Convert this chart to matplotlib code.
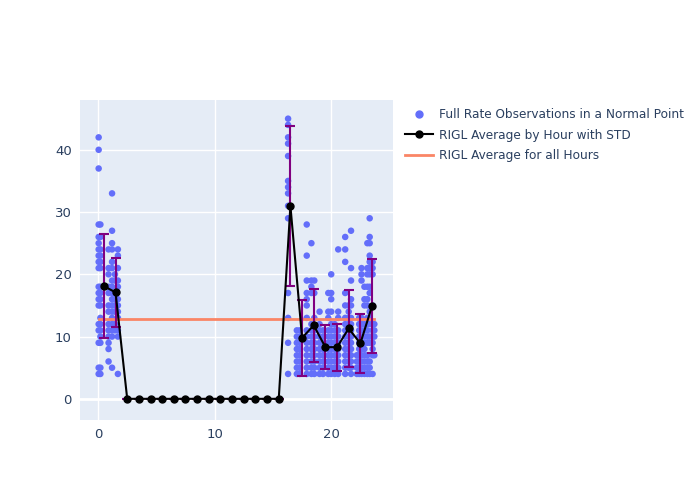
import numpy as np
import matplotlib
matplotlib.use("Agg")
import matplotlib.pyplot as plt
from matplotlib.lines import Line2D

# --- Observation columns (hour of day, list of integer values) ---
col_x = [0.05, 0.2, 0.9, 1.2, 1.45, 1.7,
         16.3,
         17.05, 17.3, 17.9, 18.3, 18.55,
         19.0, 19.3, 19.75, 20.0, 20.3, 20.6,
         21.2, 21.5, 21.7,
         22.2, 22.4, 22.6, 22.85,
         23.1, 23.3, 23.55, 23.7]
col_vals = [
    [42, 40, 37, 28, 26, 25, 24, 23, 22, 21, 18, 17, 16, 15, 12, 11, 9, 5, 4],
    [28, 26, 24, 23, 22, 21, 18, 17, 16, 15, 13, 12, 11, 10, 9, 5, 4],
    [24, 21, 20, 18, 17, 15, 14, 12, 11, 10, 9, 8, 6],
    [33, 27, 25, 24, 22, 21, 19, 18, 17, 16, 15, 14, 13, 12, 11, 10, 5],
    [20, 19, 17, 16, 15, 14, 12, 11],
    [24, 23, 21, 19, 18, 16, 15, 14, 13, 11, 10, 4],
    [45, 44, 42, 41, 39, 35, 34, 33, 31, 29, 17, 13, 9, 4],
    [11, 10, 9, 8, 7, 6, 5, 4],
    [11, 10, 9, 8, 7, 6, 5, 4],
    [28, 23, 19, 17, 16, 15, 13, 11, 10, 9, 8, 7, 6, 5, 4],
    [25, 19, 18, 17, 12, 11, 10, 9, 8, 7, 6, 5, 4],
    [19, 17, 13, 11, 10, 9, 8, 7, 6, 5, 4],
    [14, 12, 11, 10, 9, 8, 7, 6, 5, 4],
    [11, 10, 9, 8, 7, 6, 5, 4],
    [17, 14, 13, 11, 10, 9, 8, 7, 6, 5, 4],
    [20, 17, 16, 14, 12, 11, 10, 9, 8, 7, 6, 5, 4],
    [12, 11, 10, 9, 8, 7, 6, 5, 4],
    [24, 14, 13, 11, 10, 9, 8, 7, 6, 5, 4],
    [26, 24, 22, 17, 15, 13, 12, 11, 10, 9, 8, 7, 6, 5, 4],
    [15, 14, 13, 12, 11, 10, 9, 8, 7, 6, 5],
    [27, 21, 19, 16, 15, 13, 12, 11, 10, 9, 8, 7, 6, 5, 4],
    [7, 6, 5, 4],
    [13, 12, 11, 10, 9, 8, 7, 6, 5, 4],
    [21, 20, 19, 13, 12, 11, 10, 9, 8, 7, 6, 5, 4],
    [18, 16, 15, 12, 11, 10, 9, 8, 7, 6, 5, 4],
    [25, 21, 20, 18, 16, 15, 13, 12, 11, 10, 9, 7, 6, 5, 4],
    [29, 26, 25, 23, 22, 21, 20, 18, 17, 14, 13, 12, 10, 9, 6, 5, 4],
    [22, 21, 20, 15, 12, 11, 10, 9, 8, 7, 4],
    [12, 11, 10, 7],
]

# --- Hourly averages and standard deviations ---
hours = list(range(24))
hour_mean = [18.1, 17.1, 0, 0, 0, 0, 0, 0, 0, 0, 0, 0, 0, 0, 0, 0,
             31.0, 9.8, 11.8, 8.3, 8.3, 11.3, 8.9, 14.9]
hour_std = [8.3, 5.6, 0, 0, 0, 0, 0, 0, 0, 0, 0, 0, 0, 0, 0, 0,
            12.9, 6.1, 5.9, 3.5, 3.8, 6.25, 4.75, 7.5]
overall_mean = 12.8

labels = ["Full Rate Observations in a Normal Point",
          "RIGL Average by Hour with STD",
          "RIGL Average for all Hours"]

obs_x = np.concatenate([[x] * len(v) for x, v in zip(col_x, col_vals)])
obs_y = np.concatenate(col_vals)

fig = plt.figure(figsize=(7, 5), dpi=100)
ax = fig.add_axes([80 / 700, 80 / 500, 313 / 700, 320 / 500])
ax.set_facecolor("#E5ECF6")
for s in ax.spines.values():
    s.set_visible(False)

ax.scatter(obs_x, obs_y, s=22, color="#636EFA", edgecolors="none", zorder=3)

hx = np.array(hours) + 0.5
ax.errorbar(hx, hour_mean, yerr=hour_std, color="black", ecolor="purple",
            elinewidth=1.5, capsize=3.5, capthick=1.5, marker="o",
            markersize=5, linewidth=1.5, zorder=5)

ax.plot([obs_x.min(), obs_x.max()], [overall_mean, overall_mean],
        color="#FA8566", linewidth=2, zorder=4)

ax.set_xlim(-1.55, 25.3)
ax.set_ylim(-3.4, 48)
ax.set_xticks([0, 10, 20])
ax.set_yticks([0, 10, 20, 30, 40])
ax.grid(True, color="white", linewidth=1)
ax.set_axisbelow(True)
ax.axhline(0, color="white", linewidth=2, zorder=1)
ax.tick_params(length=0, labelsize=9.5, colors="#2a3f5f", pad=6)

handles = [
    Line2D([], [], linestyle="none", marker="o", markersize=5,
           color="#636EFA"),
    Line2D([], [], color="black", marker="o", markersize=5, linewidth=1.5),
    Line2D([], [], color="#FA8566", linewidth=2),
]
leg = fig.legend(handles, labels, loc="upper left",
                 bbox_to_anchor=(0.563, 0.805), frameon=False,
                 fontsize=8.7, handlelength=2.3, labelspacing=0.6,
                 handletextpad=0.5)
for t in leg.get_texts():
    t.set_color("#2a3f5f")

fig.savefig("out.png", dpi=100)
